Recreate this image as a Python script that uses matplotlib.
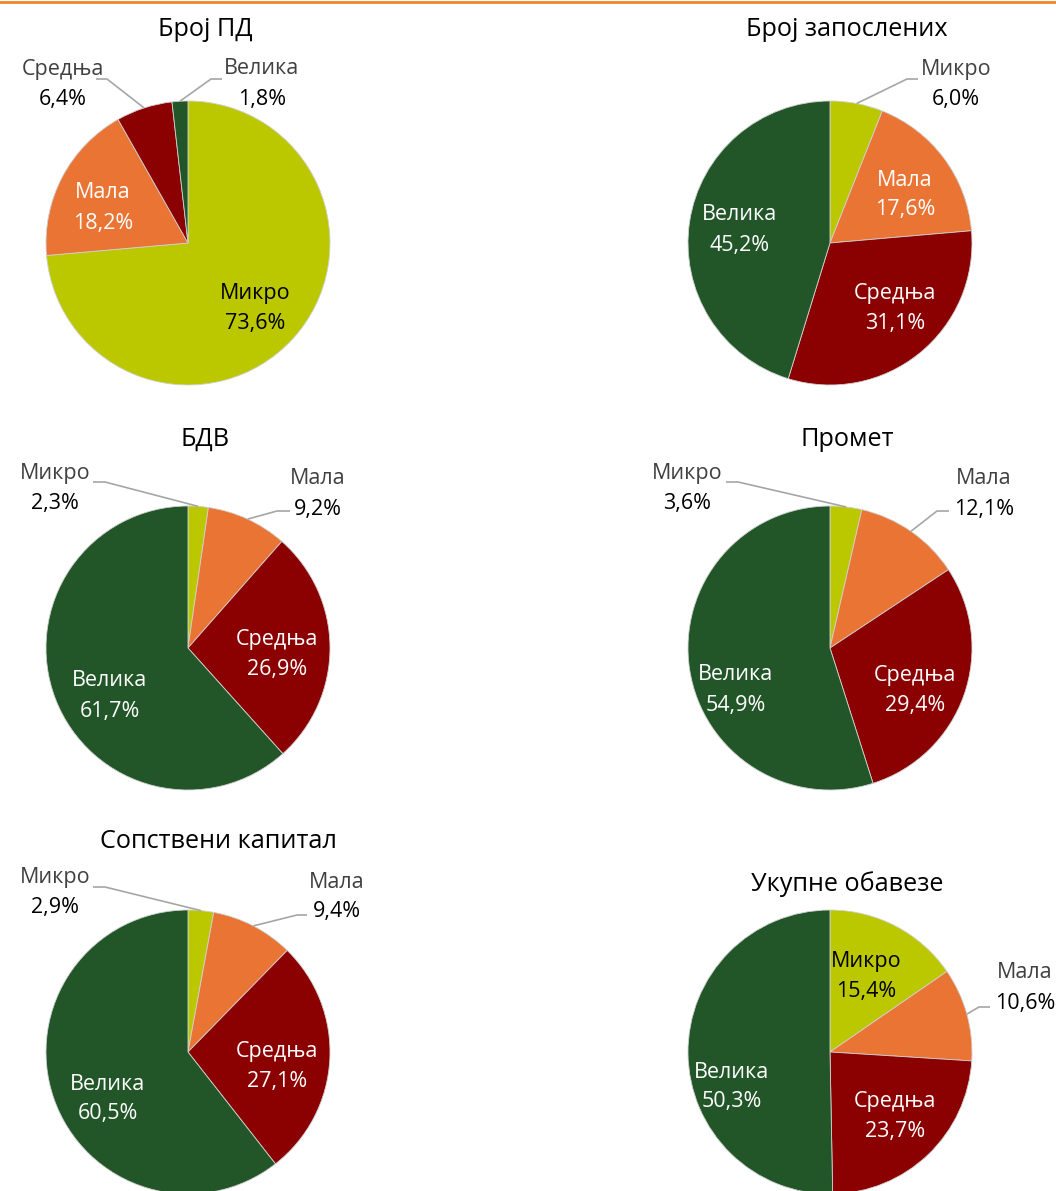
import matplotlib as mpl
mpl.use('Agg')
import matplotlib.pyplot as plt
import numpy as np

plt.rcParams['font.family'] = ['Open Sans', 'DejaVu Sans']

W, H = 1056, 1191

categories = ["Микро", "Мала", "Средња", "Велика"]
colors = ["#BBC800", "#E97434", "#8B0000", "#225628"]
inside_text = ["black", "white", "white", "white"]

titles = ["Број ПД", "Број запослених", "БДВ", "Промет",
          "Сопствени капитал", "Укупне обавезе"]

broj_pd = [73.6, 18.2, 6.4, 1.8]
broj_zaposlenih = [6.0, 17.6, 31.1, 45.2]
bdv = [2.3, 9.2, 26.9, 61.7]
promet = [3.6, 12.1, 29.4, 54.9]
kapital = [2.9, 9.4, 27.1, 60.5]
obaveze = [15.4, 10.6, 23.7, 50.3]
shares = [broj_pd, broj_zaposlenih, bdv, promet, kapital, obaveze]

# layout in pixels from the top-left corner
centers = [(188, 243), (830, 243), (188, 648), (830, 648), (188, 1052), (830, 1052)]
title_pos = [(205, 29), (847, 29), (205, 439), (847, 439), (218, 842), (847, 884)]
R = 142

# labels inside the pie: index -> (text dx, text dy) from the centre
inside = [
    {0: (67, 62), 1: (-85, -38)},
    {1: (75, -51), 2: (65, 63), 3: (-90, -16)},
    {2: (89, 4), 3: (-78, 45)},
    {2: (85, 39), 3: (-94, 39)},
    {2: (89, 12), 3: (-80, 44)},
    {0: (36, -79), 2: (65, 62), 3: (-98, 32)},
]
# labels outside the pie: index -> (text dx, text dy, line x0, line x1, line y)
outside = [
    {2: (-125, -162, -92, -81, -164), 3: (74, -162, 34, 23, -164)},
    {0: (126, -162, 88, 77, -164)},
    {0: (-133, -162, -95, -83, -166), 1: (130, -157, 102, 89, -137)},
    {0: (-143, -162, -104, -92, -166), 1: (154, -157, 119, 107, -137)},
    {0: (-133, -163, -95, -83, -165), 1: (149, -158, 119, 109, -137)},
    {1: (195, -67, 160, 149, -45)},
]

fig = plt.figure(figsize=(W / 100, H / 100), dpi=100)
ax = fig.add_axes([0, 0, 1, 1])


def fmt(v):
    return f"{v:.1f}%".replace(".", ",")


def two_lines(x, y, name, val, c_name, c_val):
    y = y + 3
    ax.text(x, H - (y - 15), name, ha="center", va="center", fontsize=15.5, color=c_name)
    ax.text(x, H - (y + 15), fmt(val), ha="center", va="center", fontsize=15.5, color=c_val)


for k, vals in enumerate(shares):
    cx, cy = centers[k]
    wedges, _ = ax.pie(vals, colors=colors, startangle=90, counterclock=False,
                       center=(cx, H - cy), radius=R,
                       wedgeprops=dict(linewidth=0.6, edgecolor="#D0D0D0"))
    tx, ty = title_pos[k]
    ax.text(tx, H - ty, titles[k], ha="center", va="center", fontsize=18.2, color="black")
    for i, w in enumerate(wedges):
        if i in outside[k]:
            mid = np.deg2rad((w.theta1 + w.theta2) / 2)
            ex, ey = np.cos(mid), np.sin(mid)
            dx, dy, lx0, lx1, ly = outside[k][i]
            ax.plot([cx + lx0, cx + lx1, cx + R * ex],
                    [H - (cy + ly), H - (cy + ly), H - cy + R * ey],
                    color="#A6A6A6", lw=1.2, solid_capstyle="butt")
            two_lines(cx + dx, cy + dy, categories[i], vals[i], "#404040", "black")
        else:
            dx, dy = inside[k][i]
            c = inside_text[i]
            two_lines(cx + dx, cy + dy, categories[i], vals[i], c, c)

ax.plot([0, W], [H - 2, H - 2], color="#F0862A", lw=2)
ax.set_xlim(0, W)
ax.set_ylim(0, H)
ax.set_aspect("equal")
ax.axis("off")

plt.savefig("out.png", dpi=100)
plt.close(fig)
